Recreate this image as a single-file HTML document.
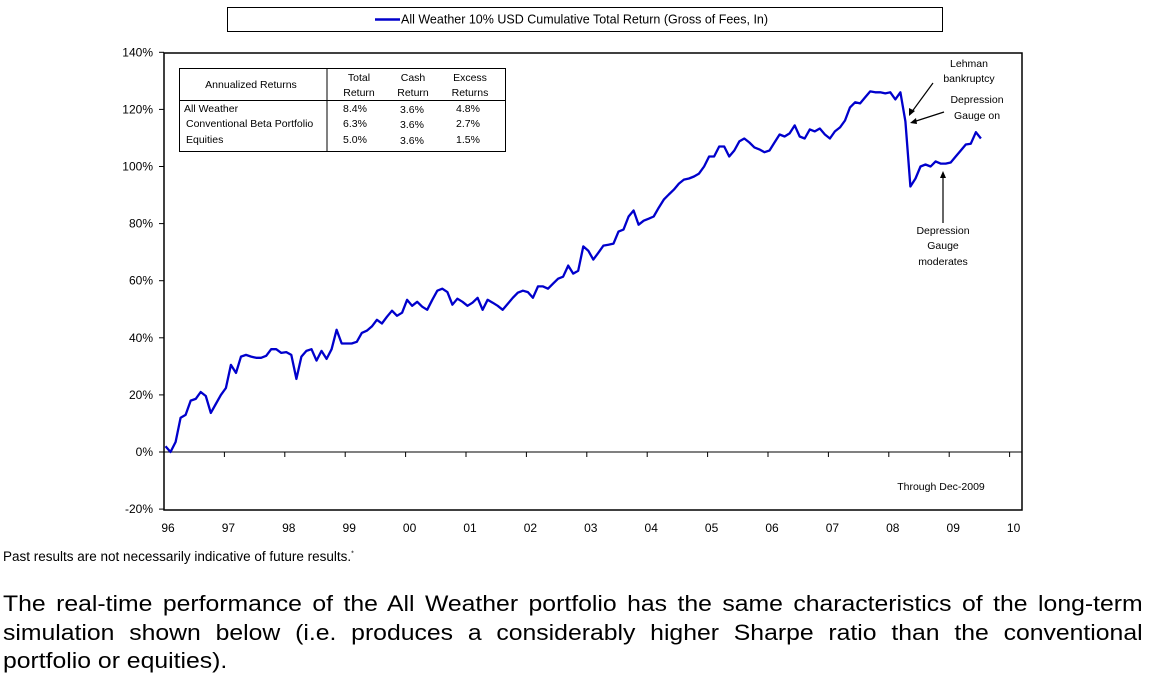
<!DOCTYPE html>
<html><head><meta charset="utf-8">
<style>
body{margin:0;background:#fff;width:1149px;height:678px;overflow:hidden;font-family:"Liberation Sans",Arial,sans-serif;position:relative}
.p{position:absolute;left:3px;width:1036px;font-size:22.5px;line-height:28.5px;top:590px;color:#000;transform:scaleX(1.1);transform-origin:0 0}
.p span{display:block;white-space:nowrap}
.j{text-align:justify;text-align-last:justify;white-space:normal!important}
</style></head><body>
<svg width="1149" height="580" style="position:absolute;left:0;top:0" font-family="Liberation Sans, Arial, sans-serif">
<rect x="227.5" y="7.5" width="715" height="24" fill="#fff" stroke="#000"/>
<line x1="375" y1="19.5" x2="400" y2="19.5" stroke="#0000cc" stroke-width="2.5"/>
<text x="401" y="23.5" font-size="12.5">All Weather 10% USD Cumulative Total Return (Gross of Fees, In)</text>
<rect x="164" y="53" width="858" height="457" fill="none" stroke="#000" stroke-width="1.5"/>
<g id="yt" font-size="12" text-anchor="end"></g>
<g id="xt" font-size="12" text-anchor="middle"></g>
<line x1="164" y1="452" x2="1022" y2="452" stroke="#000" stroke-width="1"/>
<polyline id="series" fill="none" stroke="#0000cc" stroke-width="2.3" stroke-linejoin="round"/>
<g font-size="10.5">
<rect x="179.5" y="68.5" width="326" height="83" fill="#fff" stroke="#000"/>
<line x1="327" y1="68" x2="327" y2="152" stroke="#000"/>
<line x1="179" y1="100.5" x2="505" y2="100.5" stroke="#000"/>
<text x="251" y="88" text-anchor="middle">Annualized Returns</text>
<text x="359" y="81" text-anchor="middle">Total</text><text x="359" y="96" text-anchor="middle">Return</text>
<text x="413" y="81" text-anchor="middle">Cash</text><text x="413" y="96" text-anchor="middle">Return</text>
<text x="470" y="81" text-anchor="middle">Excess</text><text x="470" y="96" text-anchor="middle">Returns</text>
<text x="184" y="112">All Weather</text><text x="186" y="127">Conventional Beta Portfolio</text><text x="186" y="143">Equities</text>
<text x="343" y="112">8.4%</text><text x="343" y="127">6.3%</text><text x="343" y="143">5.0%</text>
<text x="400" y="113">3.6%</text><text x="400" y="128">3.6%</text><text x="400" y="144">3.6%</text>
<text x="456" y="112">4.8%</text><text x="456" y="127">2.7%</text><text x="456" y="143">1.5%</text>
</g>
<g font-size="10.5" text-anchor="middle">
<text x="969" y="67">Lehman</text><text x="969" y="82">bankruptcy</text>
<text x="977" y="103">Depression</text><text x="977" y="119">Gauge on</text>
<text x="943" y="234">Depression</text><text x="943" y="249">Gauge</text><text x="943" y="265">moderates</text>
<text x="941" y="490">Through Dec-2009</text>
<line x1="933" y1="83" x2="911" y2="113" stroke="#000" stroke-width="1.2"/><polygon points="909,116 909,108 915,111" fill="#000"/>
<line x1="944" y1="112" x2="913" y2="122" stroke="#000" stroke-width="1.2"/><polygon points="910,123 916,118 917,124" fill="#000"/>
<line x1="943" y1="223" x2="943" y2="176" stroke="#000" stroke-width="1.2"/><polygon points="943,171 940,178 946,178" fill="#000"/>
</g>
</svg>
<div style="position:absolute;left:3px;top:549px;font-size:13.5px">Past results are not necessarily indicative of future results.<sup style="font-size:7px">*</sup></div>
<div class="p"><span class="j">The real-time performance of the All Weather portfolio has the same characteristics of the long-term</span><span class="j">simulation shown below (i.e. produces a considerably higher Sharpe ratio than the conventional</span><span>portfolio or equities).</span></div>
<script>
const yTicks=[140,120,100,80,60,40,20,0,-20];
const xLabels=["96","97","98","99","00","01","02","03","04","05","06","07","08","09","10"];
const startYear=1996;
const values=[2,0,3.5,12,13,18,18.6,21,19.6,13.7,16.8,20,22.4,30.5,27.7,33.4,34,33.4,33,33,33.7,36,36,34.7,35,34,25.6,33.4,35.4,36,32,35.4,32.6,36,42.8,38,38,38,38.6,41.7,42.5,44,46.3,45,47.4,49.5,47.7,48.8,53.3,51.2,52.6,50.9,49.8,53.3,56.5,57.2,56,51.6,53.7,52.6,51.2,52.3,54,49.8,53.3,52.3,51.2,49.8,51.9,54,55.8,56.5,56,54,58,58,57.2,59,60.7,61.4,65.3,62.5,63.5,72,70.5,67.4,69.8,72.3,72.6,73,77.2,77.9,82.5,84.6,79.6,81,81.7,82.5,85.6,88.4,90.2,91.9,94,95.4,95.8,96.5,97.5,100,103.5,103.5,107,107,103.5,105.6,108.8,109.8,108.4,106.7,106,105,105.6,108.4,111.2,110.5,111.6,114.4,110.5,109.8,113,112.3,113.3,111.2,109.8,112.3,113.7,116.1,120.7,122.5,122.1,124.2,126.3,126,126,125.6,126,123.5,126,115.8,93,95.8,100,100.7,100,101.8,101,101,101.4,103.5,105.6,107.7,108,112,109.8];
const NS="http://www.w3.org/2000/svg";
function y(v){return 452-(v)*2.855;}
function xYear(t){return 164+(t-startYear)*60.4;}
function xMonth(i){return xYear(startYear+(i+0.3)/12);}
const yt=document.getElementById('yt');
yTicks.forEach(v=>{
 const t=document.createElementNS(NS,'text');
 
 
 t.setAttribute('x',153);t.setAttribute('y',y(v)+4);t.textContent=v+'%';yt.appendChild(t);
 const l=document.createElementNS(NS,'line');
 
 
 l.setAttribute('x1',159);l.setAttribute('x2',164);l.setAttribute('y1',y(v));l.setAttribute('y2',y(v));l.setAttribute('stroke','#000');yt.appendChild(l);
});
const xt=document.getElementById('xt');
xLabels.forEach((s,i)=>{
 const t=document.createElementNS(NS,'text');
 
 
 t.setAttribute('x',xYear(startYear+i)+4);t.setAttribute('y',532);t.textContent=s;xt.appendChild(t);
 const l=document.createElementNS(NS,'line');
 
 
 l.setAttribute('x1',xYear(startYear+i));l.setAttribute('x2',xYear(startYear+i));l.setAttribute('y1',452);l.setAttribute('y2',457);l.setAttribute('stroke','#000');xt.appendChild(l);
});
document.getElementById('series').setAttribute('points',values.map((v,i)=>xMonth(i).toFixed(1)+','+y(v).toFixed(1)).join(' '));
</script>
</body></html>
